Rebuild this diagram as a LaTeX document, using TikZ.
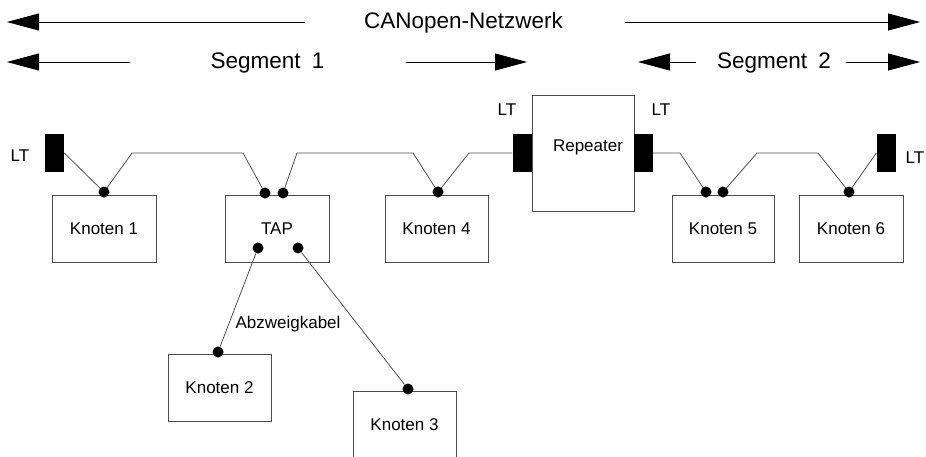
\documentclass[tikz,border=0pt]{standalone}
\usepackage{fontspec}
\setmainfont{Liberation Sans}
\usetikzlibrary{arrows.meta}
\begin{document}
\begin{tikzpicture}[x=1pt,y=-1pt,
  box/.style={draw=black!70,line width=0.9pt,rectangle,inner sep=0pt,minimum width=103pt,minimum height=67pt,font=\fontsize{17}{20}\selectfont},
  ltblock/.style={fill=black,rectangle,inner sep=0pt,minimum width=19pt,minimum height=38pt},
  lbl/.style={inner sep=0pt,font=\fontsize{17}{20}\selectfont},
  toplbl/.style={inner sep=0pt,anchor=base,font=\fontsize{22.5}{26}\selectfont},
  dot/.style={circle,fill=black,inner sep=0pt,minimum size=11pt},
  wire/.style={draw=black!70,line width=0.8pt},
  span/.style={line width=0.8pt,-{Triangle[length=32pt,width=17pt]}}]
\useasboundingbox (0,0) rectangle (926,456);
% top arrows
\node[toplbl] (net) at (463.5,28.5) {CANopen-Netzwerk};
\coordinate (n1) at (305,22); \coordinate (n1t) at (7,22);
\coordinate (n2) at (625,22); \coordinate (n2t) at (920,22);
\draw[span] (n1) -- (n1t);
\draw[span] (n2) -- (n2t);
\node[toplbl] (seg1) at (267.5,68.5) {Segment\hspace{0.5em}1};
\coordinate (s1a) at (130,62); \coordinate (s1at) at (7,62);
\coordinate (s1b) at (406,62); \coordinate (s1bt) at (527,62);
\draw[span] (s1a) -- (s1at);
\draw[span] (s1b) -- (s1bt);
\node[toplbl] (seg2) at (774,68.5) {Segment\hspace{0.5em}2};
\coordinate (s2a) at (696,62); \coordinate (s2at) at (638,62);
\coordinate (s2b) at (846,62); \coordinate (s2bt) at (920,62);
\draw[span] (s2a) -- (s2at);
\draw[span] (s2b) -- (s2bt);
% boxes
\node[box,minimum width=104pt] (k1) at (104,228.5) {Knoten 1};
\node[box,minimum width=104pt] (tap) at (277,228.5) {TAP};
\node[box] (k4) at (436.5,228.5) {Knoten 4};
\node[box,minimum width=102pt,minimum height=116pt,label={[lbl,xshift=5pt,yshift=6pt]center:Repeater}] (rep) at (583,153) {};
\node[box,minimum width=102pt] (k5) at (723,228.5) {Knoten 5};
\node[box,minimum width=104pt] (k6) at (851,228.5) {Knoten 6};
\node[box] (k2) at (219.5,387.5) {Knoten 2};
\node[box] (k3) at (404.5,424.5) {Knoten 3};
% LT blocks
\node[ltblock] (lt1) at (54.5,153) {};
\node[ltblock] (lt2) at (522,153) {};
\node[ltblock] (lt3) at (643.5,153) {};
\node[ltblock] (lt4) at (886,153) {};
\node[lbl] (lt1l) at (20,156) {LT};
\node[lbl] (lt2l) at (507,110) {LT};
\node[lbl] (lt3l) at (661,110) {LT};
\node[lbl] (lt4l) at (915,158) {LT};
% wires
\draw[wire] (lt1.east) -- (104,192) -- (132,153) -- (243,153) -- (265,193);
\draw[wire] (283,193) -- (297,153) -- (413,153) -- (438,192) -- (469,153) -- (lt2.west);
\draw[wire] (lt3.east) -- (680,153) -- (706,192);
\draw[wire] (723,192) -- (757,153) -- (818,153) -- (849,192) -- (lt4.west);
% dots
\node[dot] (d1) at (104,192) {};
\node[dot] (t1) at (265,193) {};
\node[dot] (t2) at (283,193) {};
\node[dot] (d4) at (438,192) {};
\node[dot] (d5a) at (706,192) {};
\node[dot] (d5b) at (723,192) {};
\node[dot] (d6) at (849,192) {};
\node[dot] (t3) at (258,248) {};
\node[dot] (t4) at (298,248) {};
\node[dot] (d2) at (218,352) {};
\node[dot] (d3) at (408,389) {};
\draw[wire] (t3) -- (d2);
\draw[wire] (t4) -- (d3);
\node[lbl] (abz) at (288,324) {Abzweigkabel};
\end{tikzpicture}
\end{document}
